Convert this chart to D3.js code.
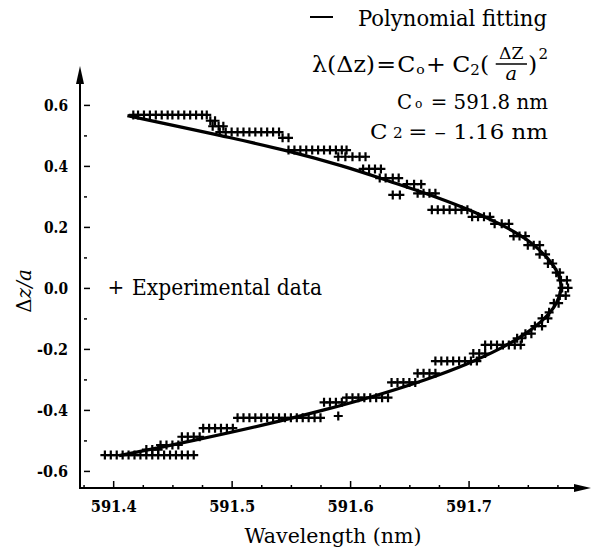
<!DOCTYPE html>
<html><head><meta charset="utf-8">
<script src="https://cdn.jsdelivr.net/npm/d3@7"></script>
<style>body{margin:0;background:#fff}</style>
</head><body><svg id="c" width="601" height="552"></svg>
<script>
// ---- data ----
const rowDz = [0.567, 0.548, 0.530, 0.511, 0.492, 0.452, 0.430, 0.390, 0.360, 0.305, 0.340, 0.310, 0.256, 0.233, 0.210, 0.170, 0.140, 0.110, 0.080, 0.050, 0.025, 0.000, -0.025,
  -0.050, -0.080, -0.100, -0.125, -0.150, -0.165, -0.187, -0.215, -0.240, -0.280, -0.310, -0.360, -0.375, -0.420, -0.426, -0.460, -0.488, -0.515, -0.530, -0.548];
const rowLambda = [
  [591.417, 591.421, 591.426, 591.431, 591.436, 591.441, 591.446, 591.450, 591.455, 591.460, 591.465, 591.470, 591.475, 591.479],
  [591.482, 591.486],
  [591.484, 591.489, 591.493],
  [591.490, 591.495, 591.500, 591.505, 591.510, 591.515, 591.520, 591.525, 591.530, 591.535, 591.540],
  [591.543, 591.548],
  [591.548, 591.553, 591.558, 591.563, 591.568, 591.573, 591.578, 591.583, 591.588, 591.593, 591.597],
  [591.590, 591.596, 591.602, 591.608, 591.613],
  [591.611, 591.616, 591.621, 591.626],
  [591.625, 591.630, 591.636, 591.641],
  [591.636, 591.642],
  [591.648, 591.654, 591.660],
  [591.657, 591.662, 591.667, 591.672],
  [591.669, 591.674, 591.679, 591.684, 591.689, 591.694, 591.699],
  [591.703, 591.708, 591.713, 591.718],
  [591.722, 591.728, 591.734],
  [591.738, 591.743, 591.748],
  [591.750, 591.755, 591.760],
  [591.760, 591.765],
  [591.767, 591.771],
  [591.774, 591.777],
  [591.778, 591.783],
  [591.779, 591.784],
  [591.777, 591.782],
  [591.772, 591.776],
  [591.768],
  [591.762, 591.767],
  [591.756, 591.762],
  [591.748, 591.753],
  [591.741, 591.745],
  [591.714, 591.719, 591.724, 591.729, 591.734, 591.739, 591.744],
  [591.704, 591.709, 591.714],
  [591.672, 591.677, 591.682, 591.687, 591.692, 591.697, 591.702, 591.707],
  [591.657, 591.662, 591.667, 591.672],
  [591.635, 591.640, 591.645, 591.650, 591.655],
  [591.597, 591.602, 591.607, 591.612, 591.617, 591.622, 591.627, 591.632],
  [591.578, 591.583, 591.588, 591.593],
  [591.590],
  [591.505, 591.510, 591.515, 591.520, 591.525, 591.530, 591.535, 591.540, 591.545, 591.550, 591.555, 591.560, 591.565, 591.570, 591.575],
  [591.476, 591.481, 591.486, 591.491, 591.496, 591.501],
  [591.458, 591.463, 591.468, 591.473],
  [591.440, 591.445, 591.450, 591.455],
  [591.428, 591.433, 591.438],
  [591.393, 591.398, 591.403, 591.408, 591.413, 591.418, 591.423, 591.428, 591.433, 591.438, 591.443, 591.448, 591.453, 591.458, 591.463, 591.468]
];
const fitDz = [0.565, 0.5, 0.45, 0.4, 0.35, 0.3, 0.25, 0.2, 0.15, 0.1, 0.05, 0, -0.05, -0.1, -0.15, -0.2, -0.25, -0.3, -0.35, -0.4, -0.45, -0.5, -0.55];
const fitLambda = [591.412, 591.490, 591.546, 591.593, 591.633, 591.671, 591.704, 591.731, 591.752, 591.766, 591.775, 591.778, 591.774, 591.764, 591.748, 591.726, 591.698, 591.664, 591.624, 591.578, 591.526, 591.468, 591.405];
const yTicks = [0.6, 0.4, 0.2, 0.0, -0.2, -0.4, -0.6];
const yTickLabels = ["0.6", "0.4", "0.2", "0.0", "-0.2", "-0.4", "-0.6"];
const yMinor = [0.5, 0.3, 0.1, -0.1, -0.3, -0.5];
const xTicks = [591.4, 591.5, 591.6, 591.7];
const xTickLabels = ["591.4", "591.5", "591.6", "591.7"];
const xMinor = [591.375, 591.425, 591.45, 591.475, 591.525, 591.55, 591.575, 591.625, 591.65, 591.675, 591.725, 591.75, 591.775];

// ---- drawing ----
const FONT = "DejaVu Serif";
const svg = d3.select("#c");
const x = d3.scaleLinear().domain([591.372, 591.8025]).range([80, 590]);
const y = d3.scaleLinear().domain([-0.656, 0.721]).range([488, 68]);

// axes
const gx = svg.append("g").attr("transform", "translate(0,488)")
  .call(d3.axisBottom(x).tickValues(xTicks).tickSize(-7).tickSizeOuter(0).tickPadding(12).tickFormat((d, i) => xTickLabels[i]));
gx.select(".domain").remove();
gx.selectAll("line").attr("stroke", "#000").attr("stroke-width", 1.5);
gx.selectAll("text").attr("font-weight", "bold").attr("font-size", 17).attr("fill", "#000")
  .attr("textLength", 46).attr("lengthAdjust", "spacingAndGlyphs");
svg.append("g").attr("transform", "translate(0,488)")
  .call(d3.axisBottom(x).tickValues(xMinor).tickSize(-3).tickSizeOuter(0).tickFormat(""))
  .call(g => g.select(".domain").remove())
  .selectAll("line").attr("stroke", "#000").attr("stroke-width", 1.5);

const gy = svg.append("g").attr("transform", "translate(80,0)")
  .call(d3.axisLeft(y).tickValues(yTicks).tickSize(-8).tickSizeOuter(0).tickPadding(20).tickFormat((d, i) => yTickLabels[i]));
gy.select(".domain").remove();
gy.selectAll("line").attr("stroke", "#000").attr("stroke-width", 1.5).attr("x1", 4).attr("x2", 10);
gy.selectAll("text").attr("font-weight", "bold").attr("font-size", 17).attr("fill", "#000").attr("x", -12)
  .attr("textLength", d => d < 0 ? 31 : 24).attr("lengthAdjust", "spacingAndGlyphs");
svg.append("g").attr("transform", "translate(80,0)")
  .call(d3.axisLeft(y).tickValues(yMinor).tickSize(-4).tickSizeOuter(0).tickFormat(""))
  .call(g => g.select(".domain").remove())
  .selectAll("line").attr("stroke", "#000").attr("stroke-width", 1.5).attr("x1", 4).attr("x2", 7);

// axis lines with arrows
svg.append("line").attr("x1", 80).attr("y1", 488).attr("x2", 80).attr("y2", 78).attr("stroke", "#000").attr("stroke-width", 2);
svg.append("path").attr("d", "M80,66 L76,84 L84,84 Z").attr("fill", "#000");
svg.append("line").attr("x1", 79).attr("y1", 488).attr("x2", 580).attr("y2", 488).attr("stroke", "#000").attr("stroke-width", 2);
svg.append("path").attr("d", "M591,488 L574,484 L574,492 Z").attr("fill", "#000");

// fit line
const pts = fitDz.map((d, i) => [fitLambda[i], d]);
svg.append("path").datum(pts)
  .attr("d", d3.line().x(d => x(d[0])).y(d => y(d[1])).curve(d3.curveCatmullRom))
  .attr("fill", "none").attr("stroke", "#000").attr("stroke-width", 3.2);

// experimental data
const exp = [];
rowDz.forEach((dz, i) => rowLambda[i].forEach(l => exp.push([l, dz])));
svg.append("g").selectAll("path").data(exp).join("path")
  .attr("transform", d => `translate(${x(d[0])},${y(d[1])})`)
  .attr("d", "M-4.5,0H4.5M0,-4.5V4.5").attr("stroke", "#000").attr("stroke-width", 2.2).attr("fill", "none");

// titles
svg.append("text").attr("x", 333).attr("y", 543).attr("text-anchor", "middle").attr("font-family", FONT)
  .attr("font-size", 20).attr("textLength", 177).attr("lengthAdjust", "spacingAndGlyphs").text("Wavelength (nm)");
const yt = svg.append("text").attr("transform", "translate(31,291) rotate(-90)").attr("text-anchor", "middle")
  .attr("font-family", FONT).attr("font-size", 20);
yt.append("tspan").text("Δ");
yt.append("tspan").attr("font-style", "italic").text("z/a");

// legend
svg.append("line").attr("x1", 310).attr("x2", 333).attr("y1", 17).attr("y2", 17).attr("stroke", "#000").attr("stroke-width", 2);
svg.append("text").attr("x", 358).attr("y", 26).attr("font-family", FONT).attr("font-size", 22).attr("textLength", 189).attr("lengthAdjust", "spacingAndGlyphs").text("Polynomial fitting");
svg.append("text").attr("x", 116).attr("y", 294).attr("text-anchor", "middle").attr("font-family", FONT).attr("font-size", 20).text("+");
svg.append("text").attr("x", 132).attr("y", 295).attr("font-family", FONT).attr("font-size", 22).attr("textLength", 190).attr("lengthAdjust", "spacingAndGlyphs").text("Experimental data");

// piecewise text layout, right-aligned and fitted to a target width
function layout(pieces, baseline, right, width) {
  const g = svg.append("g");
  let cx = 0;
  pieces.forEach(p => {
    if (p.frac) {
      g.append("text").attr("x", cx + p.w / 2).attr("y", baseline - 13).attr("text-anchor", "middle")
        .attr("font-family", FONT).attr("font-size", 16).text(p.num);
      g.append("text").attr("x", cx + p.w / 2).attr("y", baseline + 8).attr("text-anchor", "middle")
        .attr("font-family", FONT).attr("font-size", 18).attr("font-style", "italic").text(p.den);
      g.append("line").attr("x1", cx).attr("x2", cx + p.w).attr("y1", baseline - 8).attr("y2", baseline - 8)
        .attr("stroke", "#000").attr("stroke-width", 1.5);
      cx += p.w + (p.gap || 0);
      return;
    }
    const el = g.append("text").attr("x", cx).attr("y", baseline + (p.dy || 0)).attr("font-family", FONT)
      .attr("font-size", p.size || 22).text(p.t);
    cx += el.node().getComputedTextLength() + (p.gap || 0);
  });
  const k = width / cx;
  g.attr("transform", `translate(${right - width},0) scale(${k},1)`);
}
layout([
  {t: "λ(Δz)", gap: 1}, {t: "=", gap: 1}, {t: "C", gap: 1}, {t: "o", size: 13, dy: 2, gap: 1},
  {t: "+", gap: 6}, {t: "C", gap: 0}, {t: "2", size: 14, dy: 3, gap: 0}, {t: "(", gap: 6},
  {frac: true, num: "ΔZ", den: "a", w: 29, gap: 1}, {t: ")", gap: 1}, {t: "2", size: 14, dy: -13}
], 72, 548, 236);
layout([
  {t: "C", gap: 3, size: 21}, {t: "o", size: 13, dy: -1, gap: 9}, {t: "= 591.8 nm", size: 21}
], 109, 548, 151);
layout([
  {t: "C", gap: 5, size: 21}, {t: "2", size: 14, dy: -1, gap: 5}, {t: "= – 1.16 nm", size: 21}
], 139, 548, 178);

svg.selectAll("text").attr("font-family", FONT);
</script></body></html>
